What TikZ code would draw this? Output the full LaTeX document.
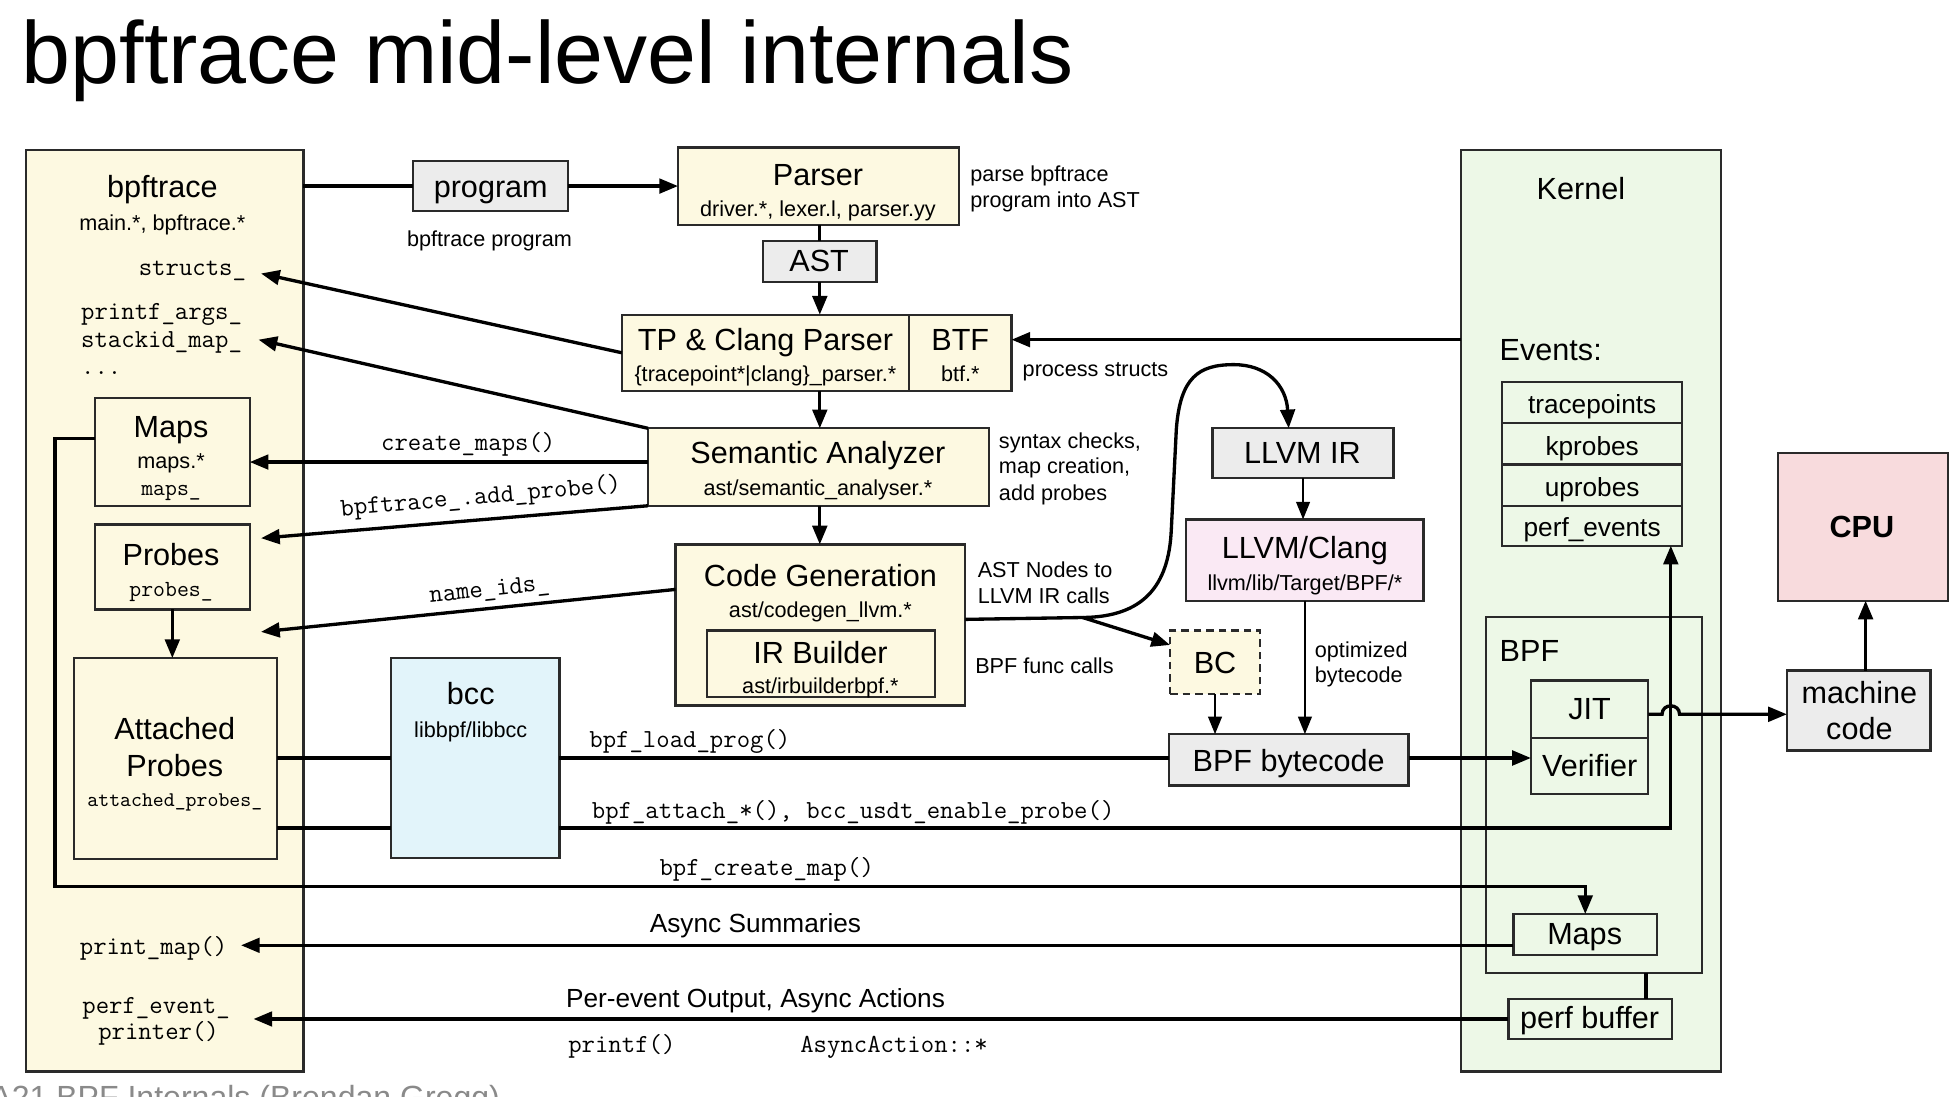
\documentclass[tikz,border=0pt]{standalone}
\usepackage{fontspec}
\setmainfont{Liberation Sans}
\usetikzlibrary{arrows.meta,fit,calc}
\definecolor{cream}{HTML}{FDF9E1}
\definecolor{boxgray}{HTML}{ECECEC}
\definecolor{kgreen}{HTML}{EDF8E7}
\definecolor{bccblue}{HTML}{E2F4FA}
\definecolor{llpink}{HTML}{FAE9F4}
\definecolor{cpupink}{HTML}{F8DBDD}
\definecolor{edge}{HTML}{2A2A2A}
\definecolor{capgray}{HTML}{8A8A8A}
\begin{document}
\begin{tikzpicture}[x=0.6pt,y=-0.6pt,
  bx/.style={draw=edge, line width=1.1pt, inner sep=0pt, outer sep=0pt},
  cr/.style={bx, fill=cream},
  gr/.style={bx, fill=boxgray},
  gn/.style={bx, fill=kgreen},
  bl/.style={bx, fill=bccblue},
  pk/.style={bx, fill=llpink},
  cp/.style={bx, fill=cpupink},
  txt/.style={inner sep=0pt, outer sep=0pt, text height=0.72em, text depth=0pt, yshift=-1.5pt},
  big/.style={txt, font=\fontsize{14.7}{17}\selectfont},
  sm/.style={txt, font=\fontsize{10.4}{12}\selectfont},
  md/.style={txt, font=\fontsize{12.6}{15}\selectfont},
  mono/.style={txt, text height=0.6em, font=\ttfamily\fontsize{12.5}{15}\selectfont},
  monos/.style={txt, text height=0.6em, font=\ttfamily\fontsize{11.1}{13}\selectfont},
  monot/.style={txt, text height=0.6em, font=\ttfamily\fontsize{10}{12}\selectfont},
  conn/.style={line width=1.6pt, draw=black},
  arr/.style={conn, -{Triangle[length=9pt,width=7pt]}},
  arrm/.style={line width=1.3pt, draw=black, -{Triangle[length=8.5pt,width=6.5pt]}}
]
\useasboundingbox (0,0) rectangle (1568,877.7);
\fill[white] (0,0) rectangle (1568,877.7);

% title and caption
\node[anchor=base west, inner sep=0pt, font=\fontsize{42.3}{50}\selectfont] (title) at (17,67) {bpftrace mid-level internals};
\node[anchor=base west, inner sep=0pt, text=capgray, font=\fontsize{15.4}{18}\selectfont] (caption) at (-8,888) {A21 BPF Internals (Brendan Gregg)};

% ---------- boxes ----------
\node[cr, fit={(21,120) (243,858)}] (bpft) {};
\node[cr, fit={(76,319) (200,405)}] (maps) {};
\node[cr, fit={(76,420) (200,488)}] (probes) {};
\node[cr, fit={(59,527) (222,688)}] (attached) {};
\node[gr, fit={(331,129) (455,169)}] (prog) {};
\node[cr, fit={(543,118) (768,180)}] (parser) {};
\node[gr, fit={(611,193) (702,226)}] (ast) {};
\node[cr, fit={(498,252) (728,313)}] (tp) {};
\node[cr, fit={(728,252) (810,313)}] (btf) {};
\node[cr, fit={(519,343) (792,405)}] (sem) {};
\node[cr, fit={(541,436) (773,565)}] (cg) {};
\node[cr, fit={(566,505) (749,558)}] (irb) {};
\node[bl, fit={(313,527) (448,687)}] (bcc) {};
\node[gn, fit={(1170,120) (1378,858)}] (kernel) {};
\node[gn, fit={(1203,306) (1347,339)}] (ev1) {};
\node[gn, fit={(1203,339) (1347,372)}] (ev2) {};
\node[gn, fit={(1203,372) (1347,405)}] (ev3) {};
\node[gn, fit={(1203,405) (1347,437)}] (ev4) {};
\node[gn, fit={(1190,494) (1363,779)}] (bpfk) {};
\node[gn, fit={(1226,545) (1320,591)}] (jit) {};
\node[gn, fit={(1226,591) (1320,636)}] (verif) {};
\node[gn, fit={(1212,732) (1327,765)}] (kmaps) {};
\node[gn, fit={(1208,800) (1339,832)}] (pbuf) {};
\node[gr, fit={(971,343) (1116,383)}] (llvmir) {};
\node[pk, fit={(950,416) (1140,481)}] (clang) {};
\node[cr, dash pattern=on 3.6pt off 2.4pt, fit={(937,505) (1009,556)}] (bc) {};
\node[gr, fit={(936,588) (1128,629)}] (bytecode) {};
\node[cp, fit={(1424,363) (1560,481)}] (cpu) {};
\node[gr, fit={(1431,537) (1546,601)}] (mcode) {};

% ---------- texts ----------
\node[big] (tbpft) at (130,150) {bpftrace};
\node[sm] (tbpft2) at (130,176) {main.*, bpftrace.*};
\node[mono, anchor=east] (structs) at (197,213) {structs\_};
\node[mono, anchor=west] (printfargs) at (65,248) {printf\_args\_};
\node[mono, anchor=west] (stackid) at (65,271) {stackid\_map\_};
\node[mono, anchor=west] (dots) at (65,292) {...};
\node[big] (tmaps) at (137,342) {Maps};
\node[sm] (tmaps2) at (137,367) {maps.*};
\node[monos] (tmaps3) at (137,389) {maps\_};
\node[big] (tprobes) at (137,444) {Probes};
\node[monos] (tprobes2) at (137,470) {probes\_};
\node[big] (tatt1) at (140,584) {Attached};
\node[big] (tatt2) at (140,613) {Probes};
\node[monot] (tatt3) at (140,638) {attached\_probes\_};
\node[mono, anchor=west] (printmap) at (64,757) {print\_map()};
\node[mono] (pev1) at (125,804) {perf\_event\_};
\node[mono] (pev2) at (127,825) {printer()};

\node[big] (tprog) at (393,150) {program};
\node[sm] (tprog2) at (392,189) {bpftrace program};
\node[big] (tparser) at (655,140) {Parser};
\node[sm] (tparser2) at (655,165) {driver.*, lexer.l, parser.yy};
\node[sm, anchor=west] (nparse1) at (777,137) {parse bpftrace};
\node[sm, anchor=west] (nparse2) at (777,158) {program into AST};
\node[big] (tast) at (656,209) {AST};
\node[big] (ttp) at (613,272) {TP \& Clang Parser};
\node[sm] (ttp2) at (613,297) {\{tracepoint*|clang\}\_parser.*};
\node[big] (tbtf) at (769,272) {BTF};
\node[sm] (tbtf2) at (769,297) {btf.*};
\node[sm, anchor=west] (nproc) at (819,293) {process structs};
\node[big] (tsem) at (655,363) {Semantic Analyzer};
\node[sm] (tsem2) at (655,388) {ast/semantic\_analyser.*};
\node[sm, anchor=west] (nsem1) at (800,351) {syntax checks,};
\node[sm, anchor=west] (nsem2) at (800,371) {map creation,};
\node[sm, anchor=west] (nsem3) at (800,392) {add probes};
\node[big] (tcg) at (657,461) {Code Generation};
\node[sm] (tcg2) at (657,486) {ast/codegen\_llvm.*};
\node[big] (tirb) at (657,523) {IR Builder};
\node[sm] (tirb2) at (657,547) {ast/irbuilderbpf.*};
\node[sm, anchor=west] (ncg1) at (783,454) {AST Nodes to};
\node[sm, anchor=west] (ncg2) at (783,475) {LLVM IR calls};
\node[sm, anchor=west] (ncg3) at (781,531) {BPF func calls};
\node[mono] (lcm) at (375,353) {create\_maps()};
\node[mono, rotate=5] (lap) at (385,396) {bpftrace\_.add\_probe()};
\node[mono, rotate=6] (lni) at (392,470) {name\_ids\_};
\node[big] (tbcc) at (377,556) {bcc};
\node[sm] (tbcc2) at (377,582) {libbpf/libbcc};
\node[mono, anchor=west] (llp) at (472,591) {bpf\_load\_prog()};
\node[mono, anchor=west] (lat) at (474,648) {bpf\_attach\_*(), bcc\_usdt\_enable\_probe()};
\node[mono] (lcmap) at (614,694) {bpf\_create\_map()};
\node[md] (las) at (605,738) {Async Summaries};
\node[md] (lpe) at (605,798) {Per-event Output, Async Actions};
\node[mono] (lpf) at (498,835) {printf()};
\node[mono] (laa) at (716,835) {AsyncAction::*};

\node[big] (tllvmir) at (1043,363) {LLVM IR};
\node[big] (tclang) at (1045,439) {LLVM/Clang};
\node[sm] (tclang2) at (1045,464) {llvm/lib/Target/BPF/*};
\node[sm, anchor=west] (nopt1) at (1053,518) {optimized};
\node[sm, anchor=west] (nopt2) at (1053,538) {bytecode};
\node[big] (tbc) at (973,531) {BC};
\node[big] (tbyte) at (1032,609) {BPF bytecode};
\node[big] (tkernel) at (1266,151) {Kernel};
\node[big, anchor=west] (tevents) at (1201,280) {Events:};
\node[md] (tev1) at (1275,323) {tracepoints};
\node[md] (tev2) at (1275,356) {kprobes};
\node[md] (tev3) at (1275,389) {uprobes};
\node[md] (tev4) at (1275,421) {perf\_events};
\node[big, anchor=west] (tbpfk) at (1201,521) {BPF};
\node[big] (tjit) at (1273,568) {JIT};
\node[big] (tverif) at (1273,613) {Verifier};
\node[big] (tkmaps) at (1269,748) {Maps};
\node[big] (tpbuf) at (1273,815) {perf buffer};
\node[big, font=\bfseries\fontsize{14.7}{17}\selectfont] (tcpu) at (1491,422) {CPU};
\node[big] (tmc1) at (1489,555) {machine};
\node[big] (tmc2) at (1489,584) {code};

% ---------- connectors ----------
\draw[conn] (bpft.east |- prog.west) -- (prog.west);
\draw[arr] (prog.east) -- (prog.east -| parser.west);
\draw[conn] (ast.north |- parser.south) -- (ast.north);
\draw[arr] (ast.south) -- (ast.south |- tp.north);
\coordinate (cbtf) at (900,272);
\draw[arr] (kernel.west |- cbtf) -- (btf.east |- cbtf);
\draw[arr] (ast.south |- tp.south) -- (ast.south |- sem.north);
\coordinate (cstructs) at (209,219);
\draw[arr] (tp.west) -- (cstructs);
\coordinate (cstack) at (207,272);
\draw[arr] (sem.north west) -- (cstack);
\coordinate (ccm) at (360,370);
\draw[arr] (sem.west |- ccm) -- (maps.east |- ccm);
\coordinate (cprobe) at (209,431);
\draw[arr] (sem.south west) -- (cprobe);
\draw[arr] (sem.south -| ast.south) -- (ast.south |- cg.north);
\coordinate (cgl) at (600,472);
\coordinate (cname) at (209,506);
\draw[arr] (cg.west |- cgl) -- (cname);
\draw[arr] (probes.south) -- (probes.south |- attached.north);
% maps line
\coordinate (m1) at (44,351);
\coordinate (m2) at (44,710);
\draw[arr] (maps.west |- m1) -- (m1) -- (m2) -- (m2 -| kmaps.north) -- (kmaps.north);
% load prog
\coordinate (lp) at (600,607);
\draw[conn] (attached.east |- lp) -- (bcc.west |- lp);
\draw[conn] (bcc.east |- lp) -- (bytecode.west |- lp);
\draw[arr] (bytecode.east |- lp) -- (verif.west |- lp);
% attach
\coordinate (at) at (600,663);
\coordinate (pe) at (1338,663);
\draw[conn] (attached.east |- at) -- (bcc.west |- at);
\draw[arr] (bcc.east |- at) -- (pe) -- (pe |- ev4.south);
% codegen curve to LLVM IR
\coordinate (cv) at (800,496);
\coordinate (br) at (867,494.5);
\coordinate (ctip) at (1032,343);
\draw[arr] (cg.east |- cv) -- (br) .. controls (915,494) and (936,470) .. (938,424)
   -- (942,344) .. controls (945,302) and (960,292) .. (988,292)
   .. controls (1014,292) and (1030,308) .. (ctip);
\coordinate (bctip) at (937,516.5);
\draw[arr] (br) -- (bctip);
\draw[arrm] (llvmir.south) -- (llvmir.south |- clang.north);
\draw[arrm] (clang.south) -- (clang.south |- bytecode.north);
\draw[arrm] (bc.south) -- (bc.south |- bytecode.north);
% JIT to machine code, with a hop
\coordinate (jy) at (1330,572);
\coordinate (h1) at (1331,572);
\coordinate (h2) at (1345,572);
\draw[arr] (jit.east |- jy) -- (h1) .. controls (1331,563) and (1345,563) .. (h2) -- (mcode.west |- jy);
\coordinate (mx) at (1494,500);
\draw[arr] (mcode.north -| mx) -- (cpu.south -| mx);
% outputs
\coordinate (pm) at (193,757);
\draw[arr] (kmaps.west |- pm) -- (pm);
\coordinate (pp) at (203,816);
\draw[arr] (pbuf.west |- pp) -- (pp);
\coordinate (pbx) at (1318,790);
\draw[conn] (bpfk.south -| pbx) -- (pbuf.north -| pbx);
\end{tikzpicture}
\end{document}
